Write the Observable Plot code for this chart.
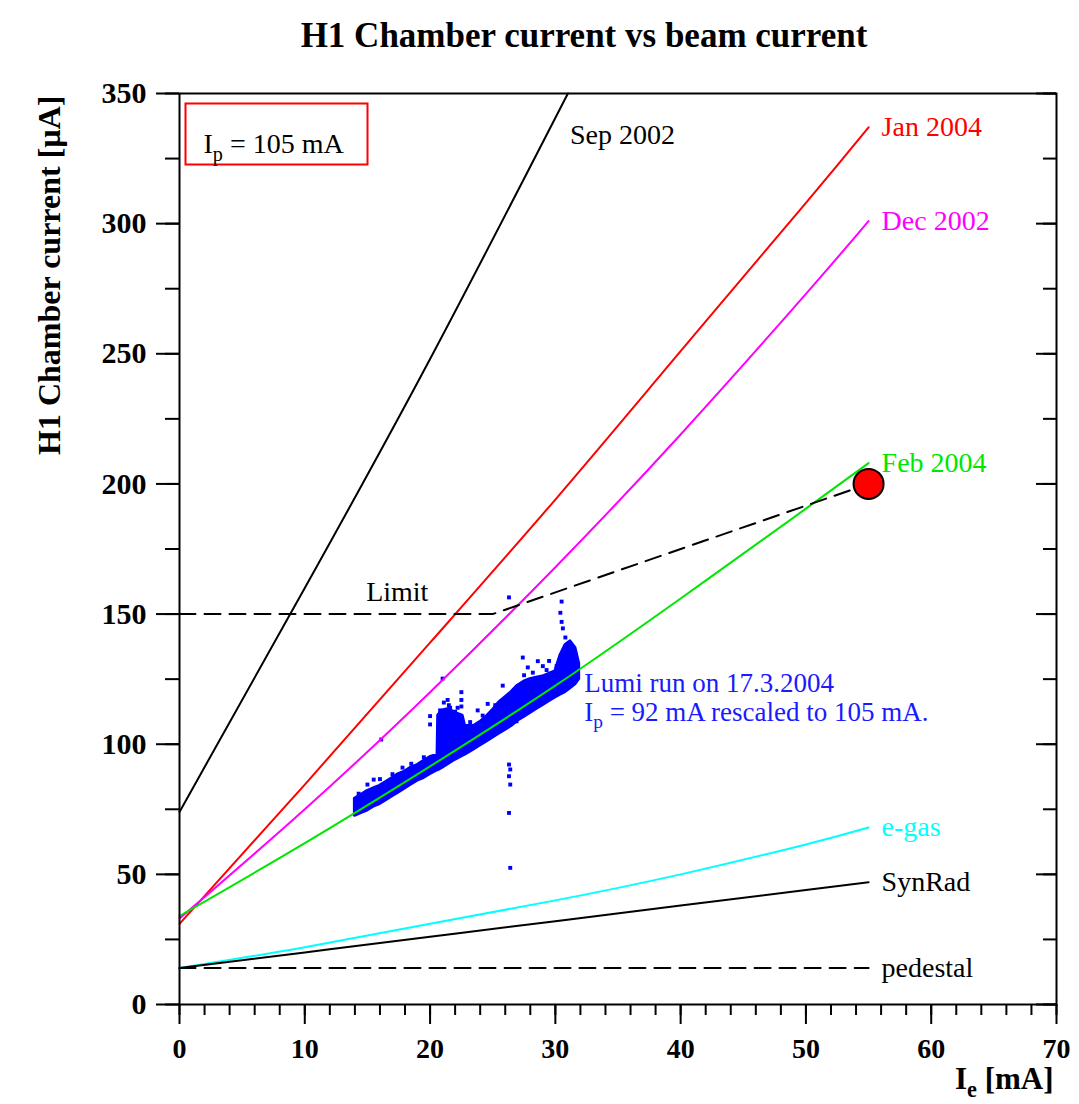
<!DOCTYPE html>
<html><head><meta charset="utf-8">
<script src="https://cdn.jsdelivr.net/npm/d3@7"></script>
<script src="https://cdn.jsdelivr.net/npm/@observablehq/plot@0.6"></script>
<style>body{margin:0;background:#fff}</style>
</head><body><div id="chart"></div>
<script>
// ---- data ----
const ieValues   = [0, 10, 20, 30, 40, 50, 55];
const jan2004    = [31, 84.5, 139, 194, 251, 308, 337];
const dec2002    = [33, 75, 120, 168, 219, 273, 301];
const feb2004    = [34, 62, 91.5, 122.5, 156, 190.5, 208];
const egas       = [14, 22, 31, 40, 50, 61.5, 68];
const synrad     = [14, 20, 26, 32, 38, 44, 47];
const pedestal   = [14, 14, 14, 14, 14, 14, 14];
const sep2002X   = [0, 10, 20, 31];
const sep2002Y   = [74, 160, 248, 350];
const limitX     = [0, 25, 55];
const limitY     = [150, 150, 200];
const workPoint  = [{x: 55, y: 200}];

// dense band of the lumi-run points: Ie, lower and upper edge
const cloudX  = [14, 14.5, 15, 15.5, 16, 16.5, 17, 17.5, 18, 18.5, 19, 19.5, 20, 20.6, 20.65, 21, 21.5, 22, 22.6, 22.8, 23.5, 24, 24.5, 25, 25.5, 26, 26.5, 27, 27.5, 28, 28.5, 29, 29.5, 30, 30.4, 30.8, 31.2, 31.6, 31.9];
const cloudLo = [72.5, 73.5, 74.5, 76, 77, 78.5, 80, 81.5, 83, 84.5, 86, 87, 88.5, 90, 90, 91, 92.5, 94, 95.5, 96, 98, 99.5, 101, 102.5, 104, 105.5, 107, 109, 110.5, 112, 113.5, 115, 116.5, 118, 119, 120, 121.5, 123, 125];
const cloudHi = [79, 80.5, 82, 83, 84, 85.5, 87, 88.5, 89.5, 91, 92, 93.5, 95, 96, 111, 113, 113.5, 112, 111, 107, 107, 108.5, 110.5, 113, 116, 118, 120, 122.5, 124, 125, 125.5, 126, 127, 128, 134, 138, 139.5, 137, 131];
// isolated lumi-run points
const outX = [15.5, 16.0, 16.1, 20.0, 20.0, 21.0, 21.4, 22.5, 22.5, 22.5, 21.1, 25.8, 26.3, 30.5, 30.4, 30.5, 30.6, 30.8, 27.4, 28.6, 29.0, 27.8, 26.3, 26.4, 26.3, 26.4, 26.3, 26.4, 26.9, 23.8, 24.6, 29.5, 31.3, 20.8, 21.6, 22.0,
              15.0, 17.0, 18.5, 19.5, 24.2, 25.2, 27.5, 28.2, 29.3, 30.1, 21.5, 22.2, 14.3, 17.8, 23.2];
const outY = [86.4, 86.6, 101.8, 110.8, 107.6, 125.2, 117, 120, 117, 114.5, 116, 122.5, 156.4, 154.8, 150.5, 147, 144.5, 141, 133.3, 131.9, 130, 129.5, 92.2, 90.3, 87.7, 84.5, 73.6, 52.5, 108.8, 113, 115.5, 132, 134, 113, 114, 112.5,
              84.5, 88.5, 92.5, 95, 111, 115, 126.5, 127.5, 128.5, 130, 115, 114, 81, 91, 108.5];

const seriesNames  = ["Jan 2004", "Dec 2002", "Feb 2004", "e-gas", "SynRad", "pedestal"];
const seriesValues = [jan2004, dec2002, feb2004, egas, synrad, pedestal];
const seriesColors = ["#ff0000", "#ff00ff", "#00e600", "#00ffff", "#000000", "#000000"];
const seriesDash   = [null, null, null, null, null, "16,9"];

const xMajor = d3.range(0, 71, 10);
const xMinor = d3.range(0, 71, 2);
const yMajor = d3.range(0, 351, 50);
const yMinor = d3.range(0, 351, 25);

const titleText = "H1 Chamber current vs beam current";
const yLabel = "H1 Chamber current [µA]";
const xLabel = "I_e [mA]";
const boxText = "I_p = 105 mA";
const lumiLines = ["Lumi run on 17.3.2004", "I_p = 92 mA rescaled to 105 mA."];
const lumiPos = [{x: 32.3, y: 123.2}, {x: 32.3, y: 112.4}];
const sepLabel = {text: "Sep 2002", x: 31, y: 350};
const limitLabel = {text: "Limit", x: 14.9, y: 150};

// ---- build tables ----
const lineRows = seriesNames.map((n, i) => ieValues.map((x, j) => ({name: n, x, y: seriesValues[i][j]})));
const endLabels = seriesNames.map((n, i) => ({text: n, x: ieValues[ieValues.length - 1], y: seriesValues[i][ieValues.length - 1], color: seriesColors[i]}));
const sepRows = sep2002X.map((x, i) => ({x, y: sep2002Y[i]}));
const limitRows = limitX.map((x, i) => ({x, y: limitY[i]}));
const cloudRows = cloudX.map((x, i) => ({x, lo: cloudLo[i], hi: cloudHi[i]}));
const outRows = outX.map((x, i) => ({x, y: outY[i]}));

const W = 1079, H = 1104, ML = 179, MR = 23, MT = 93, MB = 100;
const FW = W - ML - MR;
const serif = "'Liberation Serif', 'Times New Roman', serif";

const marks = [
  Plot.areaY(cloudRows, {x: "x", y1: "lo", y2: "hi", fill: "#0000ff", stroke: "#0000ff", strokeWidth: 3, strokeLinejoin: "round"}),
  Plot.dot(outRows, {x: "x", y: "y", symbol: "square", r: 2.2, fill: "#0000ff"}),
  ...lineRows.map((rows, i) => Plot.line(rows, {x: "x", y: "y", stroke: seriesColors[i], strokeWidth: 2, strokeDasharray: seriesDash[i], curve: "natural"})),
  Plot.line(sepRows, {x: "x", y: "y", stroke: "black", strokeWidth: 2, curve: "natural"}),
  Plot.line(limitRows, {x: "x", y: "y", stroke: "black", strokeWidth: 2, strokeDasharray: "16,9"}),
  Plot.dot(workPoint, {x: "x", y: "y", r: 15, fill: "#ff0000", stroke: "black", strokeWidth: 2}),
  Plot.text(endLabels, {x: "x", y: "y", text: "text", fill: "color", dx: 13, textAnchor: "start", fontSize: 28}),
  Plot.text([sepLabel], {x: "x", y: "y", text: "text", dx: 2, dy: 42, textAnchor: "start", fontSize: 28}),
  Plot.text([limitLabel], {x: "x", y: "y", text: "text", dy: -22, textAnchor: "start", fontSize: 28}),
  Plot.text(lumiLines, {x: (d, i) => lumiPos[i].x, y: (d, i) => lumiPos[i].y, text: d => d, textAnchor: "start", fill: "#1a1aff", fontSize: 27}),
  // legend box
  Plot.frame({stroke: "#ff0000", strokeWidth: 2, insetLeft: 6, insetTop: 10, insetRight: FW - 188, insetBottom: (H - MT - MB) - 71}),
  Plot.text([boxText], {frameAnchor: "top-left", dx: 24, dy: 40, textAnchor: "start", fontSize: 28}),
  // axes
  Plot.frame({stroke: "black", strokeWidth: 2}),
  Plot.axisX({ticks: xMinor, tickSize: 11, tickFormat: () => "", label: null, strokeWidth: 2}),
  Plot.axisX({ticks: xMajor, tickSize: 20, tickPadding: 14, fontSize: 28, fontWeight: "bold", label: null, strokeWidth: 2}),
  Plot.axisY({ticks: yMinor, tickSize: 14, tickFormat: () => "", label: null, strokeWidth: 2}),
  Plot.axisY({ticks: yMajor, tickSize: 23, tickPadding: 10, fontSize: 30, fontWeight: "bold", label: null, strokeWidth: 2}),
  Plot.tickY(yMinor, {y: d => d, insetLeft: FW - 13, stroke: "black", strokeWidth: 2}),
  Plot.tickY(yMajor, {y: d => d, insetLeft: FW - 20, stroke: "black", strokeWidth: 2}),
  // titles
  Plot.text([titleText], {frameAnchor: "top", dx: -34, dy: -71, fontWeight: "bold", fontSize: 35, text: d => d}),
  Plot.text([yLabel], {frameAnchor: "top-left", dx: -142, dy: 2, rotate: -90, textAnchor: "end", fontWeight: "bold", fontSize: 32, text: d => d}),
  Plot.text([xLabel], {frameAnchor: "bottom-right", dx: -3, dy: 84, textAnchor: "end", fontWeight: "bold", fontSize: 31, text: d => d})
];

const chart = Plot.plot({
  width: W, height: H,
  marginLeft: ML, marginRight: MR, marginTop: MT, marginBottom: MB,
  style: {fontFamily: serif, fontSize: "27px", color: "black", background: "white", overflow: "visible"},
  x: {domain: [0, 70], axis: null},
  y: {domain: [0, 350], axis: null},
  marks
});

// subscripts: "X_s rest" -> X, subscript s, rest
chart.querySelectorAll("text").forEach(t => {
  const s = t.textContent;
  const m = s.match(/^(.*?)_(\w)(.*)$/);
  if (!m) return;
  const fs = parseFloat(t.getAttribute("font-size")) || parseFloat(t.parentNode.getAttribute("font-size")) || 27;
  while (t.firstChild) t.removeChild(t.firstChild);
  const ns = "http://www.w3.org/2000/svg";
  const a = document.createElementNS(ns, "tspan"); a.textContent = m[1];
  const b = document.createElementNS(ns, "tspan"); b.textContent = m[2];
  b.setAttribute("dy", (0.28 * fs).toFixed(1)); b.setAttribute("font-size", (0.72 * fs).toFixed(1));
  const c = document.createElementNS(ns, "tspan"); c.textContent = m[3];
  c.setAttribute("dy", (-0.28 * fs).toFixed(1));
  t.append(a, b, c);
});

document.getElementById("chart").appendChild(chart);
</script>
</body></html>
